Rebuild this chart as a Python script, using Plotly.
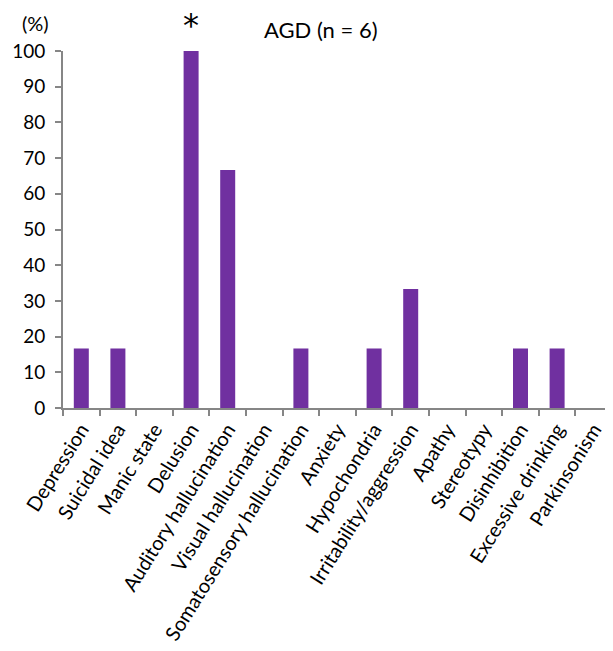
import plotly.graph_objects as go

categories = ["Depression", "Suicidal idea", "Manic state", "Delusion",
              "Auditory hallucination", "Visual hallucination",
              "Somatosensory hallucination", "Anxiety", "Hypochondria",
              "Irritability/aggression", "Apathy", "Stereotypy",
              "Disinhibition", "Excessive drinking", "Parkinsonism"]
values = [16.67, 16.67, 0, 100, 66.67, 0, 16.67, 0, 16.67, 33.33, 0, 0, 16.67, 16.67, 0]
y_ticks = [0, 10, 20, 30, 40, 50, 60, 70, 80, 90, 100]

FONT = "Lato, Open Sans, sans-serif"

fig = go.Figure(go.Bar(x=categories, y=values, marker=dict(color="#7030A0",
                       line=dict(width=0))))

fig.update_layout(
    width=605, height=635,
    margin=dict(l=55, r=1, t=43, b=235, autoexpand=False),
    plot_bgcolor="white", paper_bgcolor="white",
    bargap=0.59,
    showlegend=False,
    font=dict(family=FONT, size=20, color="black"),
)
fig.update_xaxes(
    type="category", range=[-0.5, 14.5], automargin=False,
    showline=True, linecolor="#868686", linewidth=2,
    ticks="outside", tickson="boundaries", ticklen=6, tickcolor="#868686", tickwidth=2,
    tickangle=-58, tickfont=dict(family=FONT, size=20, color="black"),
    showgrid=False,
)
fig.update_yaxes(
    range=[0, 100], tickvals=y_ticks, automargin=False,
    showline=True, linecolor="#868686", linewidth=2,
    ticks="outside", ticklen=6, tickcolor="#868686", tickwidth=2,
    ticklabelstandoff=6,
    tickfont=dict(family=FONT, size=19, color="black"),
    showgrid=False, zeroline=False,
)
fig.add_annotation(text="AGD (n = 6)", xref="paper", yref="paper", x=0.47, y=1.0,
                   xanchor="center", yanchor="middle",
                   yshift=22, showarrow=False, font=dict(family=FONT, size=22, color="black"))
fig.add_annotation(text="(%)", xref="paper", yref="paper", x=0, y=1.0,
                   xanchor="center", yanchor="middle", xshift=-28,
                   yshift=28, showarrow=False, font=dict(family=FONT, size=20, color="black"))
fig.add_annotation(text="*", x=categories[3], y=100, yref="y", yshift=26,
                   xanchor="center", yanchor="middle",
                   showarrow=False, font=dict(family="DejaVu Sans", size=32, color="black"))

fig.write_html("out.html")
